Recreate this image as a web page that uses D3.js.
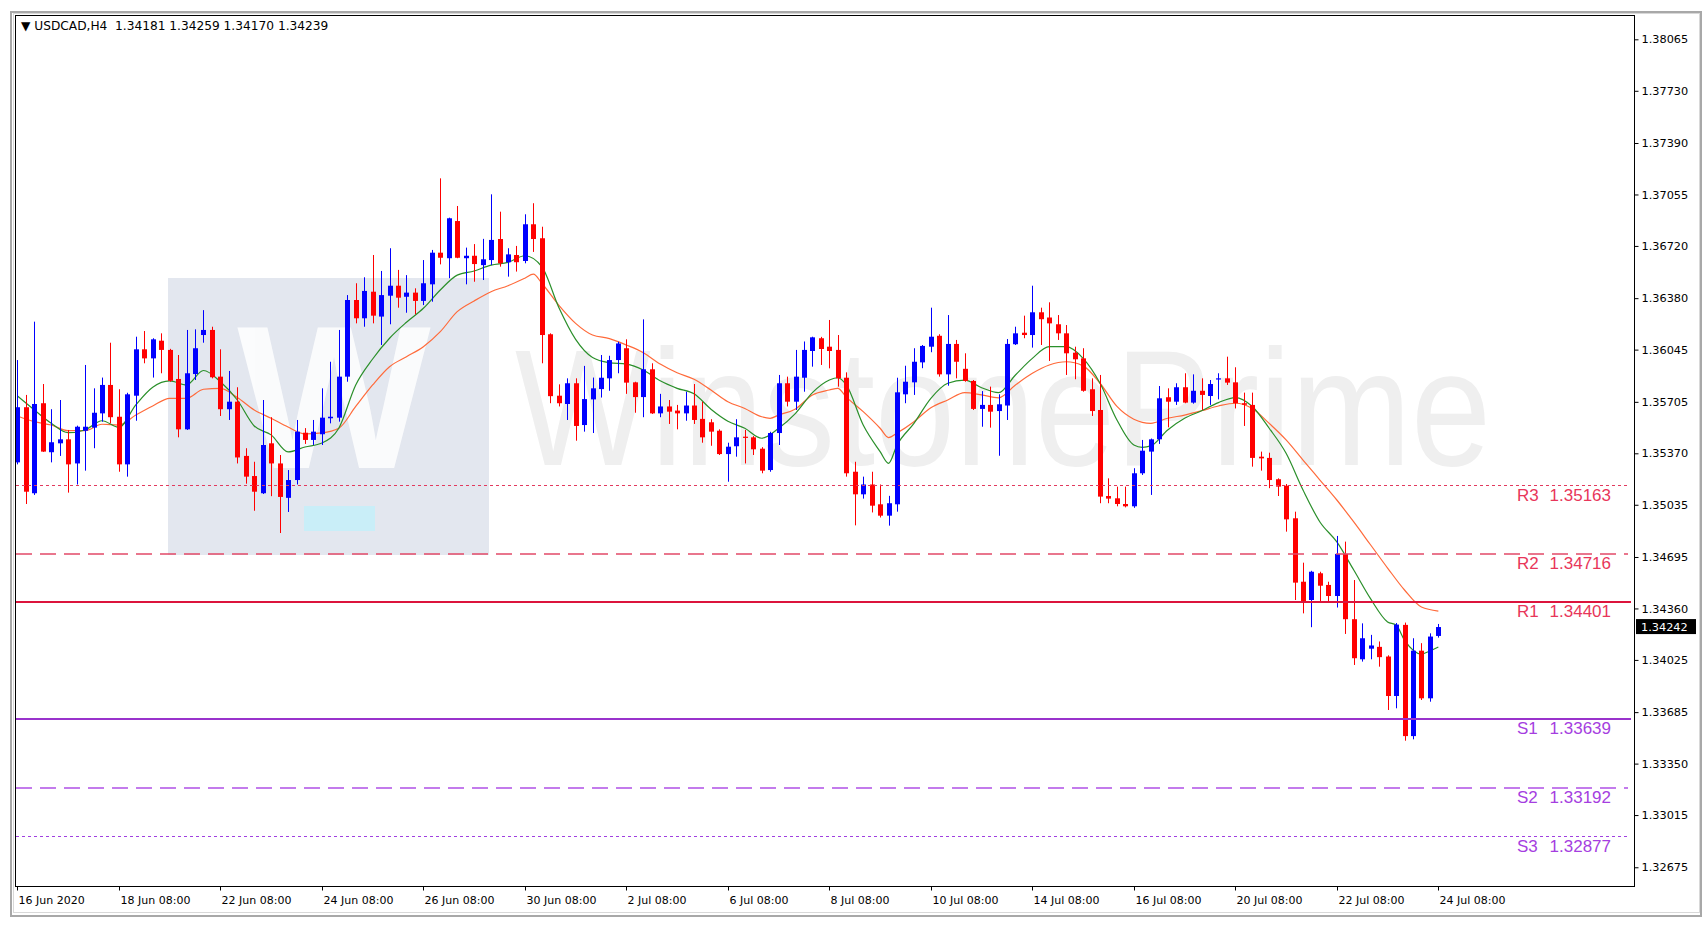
<!DOCTYPE html>
<html><head><meta charset="utf-8">
<script src="https://cdn.jsdelivr.net/npm/d3@7"></script>
<style>html,body{margin:0;padding:0;background:#fff;overflow:hidden}</style>
</head><body><svg id="c" width="1705" height="929"></svg>
<script>
// ---------- data ----------
const symbolTitle = "USDCAD,H4";
const headerOHLC = ["1.34181","1.34259","1.34170","1.34239"];
const opens = [1.35311,1.35670,1.35110,1.35696,1.35377,1.35435,1.35461,1.35304,1.35517,1.35537,1.35630,1.35815,1.35608,1.35298,1.35745,1.36047,1.35988,1.36103,1.36043,1.35854,1.35526,1.35886,1.36140,1.36173,1.35869,1.35657,1.35706,1.35353,1.35222,1.35110,1.35435,1.35304,1.35080,1.35196,1.35504,1.35457,1.35494,1.35598,1.35602,1.35869,1.36368,1.36249,1.36422,1.36260,1.36396,1.36461,1.36389,1.36416,1.36362,1.36470,1.36676,1.36640,1.36882,1.36640,1.36656,1.36595,1.36628,1.36765,1.36614,1.36661,1.36622,1.36861,1.36770,1.36145,1.35745,1.35691,1.35826,1.35554,1.35721,1.35788,1.35858,1.35977,1.36054,1.35832,1.35736,1.35917,1.35630,1.35675,1.35648,1.35630,1.35681,1.35594,1.35572,1.35517,1.35365,1.35416,1.35478,1.35474,1.35400,1.35261,1.35502,1.35826,1.35706,1.35862,1.36036,1.36119,1.36064,1.36043,1.35862,1.35250,1.35103,1.35167,1.35038,1.34964,1.35038,1.35754,1.35832,1.35962,1.36064,1.36135,1.35884,1.36082,1.35920,1.35841,1.35659,1.35685,1.35645,1.35681,1.36080,1.36155,1.36140,1.36288,1.36254,1.36210,1.36151,1.36025,1.35988,1.35787,1.35652,1.35092,1.35077,1.35040,1.35025,1.35240,1.35381,1.35461,1.35735,1.35706,1.35800,1.35700,1.35777,1.35743,1.35852,1.35858,1.35832,1.35696,1.35685,1.35348,1.35340,1.35201,1.35159,1.34947,1.34534,1.34415,1.34589,1.34513,1.34441,1.34715,1.34290,1.34029,1.34098,1.34110,1.34047,1.33790,1.34253,1.33529,1.34085,1.33775,1.34181];
const highs = [1.35977,1.35750,1.36227,1.35821,1.35657,1.35717,1.35522,1.35550,1.35945,1.35793,1.35863,1.36090,1.35787,1.35764,1.36129,1.36166,1.36119,1.36151,1.36050,1.36010,1.36173,1.36177,1.36302,1.36194,1.36047,1.35906,1.35800,1.35403,1.35315,1.35717,1.35605,1.35359,1.35261,1.35587,1.35534,1.35587,1.35793,1.35966,1.36173,1.36400,1.36477,1.36516,1.36661,1.36557,1.36705,1.36564,1.36530,1.36444,1.36628,1.36694,1.37160,1.36904,1.36980,1.36709,1.36732,1.36766,1.37056,1.36943,1.36705,1.36720,1.36926,1.36998,1.36845,1.36151,1.35819,1.35858,1.35858,1.35939,1.35863,1.36010,1.36005,1.36096,1.36112,1.35836,1.36242,1.35956,1.35757,1.35717,1.35685,1.35771,1.35821,1.35706,1.35592,1.35526,1.35439,1.35592,1.35522,1.35482,1.35410,1.35510,1.35880,1.35869,1.36043,1.36098,1.36129,1.36128,1.36238,1.36140,1.35897,1.35315,1.35218,1.35250,1.35167,1.35093,1.35862,1.35940,1.36054,1.36075,1.36318,1.36145,1.36270,1.36108,1.36021,1.35847,1.35775,1.35804,1.35754,1.36114,1.36194,1.36266,1.36461,1.36318,1.36353,1.36270,1.36205,1.36064,1.36054,1.35858,1.35880,1.35207,1.35153,1.35153,1.35273,1.35457,1.35466,1.35808,1.35793,1.35826,1.35891,1.35884,1.35858,1.35847,1.35891,1.35999,1.35930,1.35765,1.35765,1.35381,1.35374,1.35207,1.35170,1.34990,1.34658,1.34605,1.34599,1.34534,1.34832,1.34795,1.34545,1.34263,1.34188,1.34145,1.34055,1.34265,1.34268,1.34166,1.34134,1.34198,1.34259];
const lows = [1.35298,1.35040,1.35099,1.35379,1.35311,1.35353,1.35114,1.35167,1.35257,1.35403,1.35576,1.35565,1.35250,1.35218,1.35582,1.35956,1.35863,1.35891,1.35836,1.35474,1.35522,1.35847,1.36090,1.35858,1.35613,1.35587,1.35304,1.35172,1.34996,1.35105,1.35091,1.34851,1.34988,1.35167,1.35431,1.35424,1.35424,1.35565,1.35576,1.35836,1.36216,1.36194,1.36216,1.36075,1.36210,1.36318,1.36285,1.36275,1.36335,1.36357,1.36600,1.36510,1.36640,1.36470,1.36487,1.36498,1.36595,1.36585,1.36520,1.36553,1.36607,1.36681,1.35956,1.35696,1.35675,1.35587,1.35452,1.35511,1.35502,1.35733,1.35777,1.35891,1.35757,1.35634,1.35605,1.35626,1.35605,1.35561,1.35526,1.35582,1.35561,1.35439,1.35419,1.35359,1.35185,1.35348,1.35304,1.35359,1.35240,1.35250,1.35424,1.35675,1.35652,1.35771,1.35934,1.35945,1.35923,1.35804,1.35218,1.34901,1.35075,1.34985,1.34952,1.34899,1.34990,1.35696,1.35750,1.35924,1.36028,1.35869,1.35810,1.35858,1.35836,1.35652,1.35543,1.35537,1.35354,1.35587,1.36075,1.36119,1.36058,1.36075,1.35971,1.36108,1.35880,1.35852,1.35771,1.35613,1.35045,1.35045,1.35025,1.35018,1.35015,1.35229,1.35099,1.35431,1.35539,1.35685,1.35696,1.35693,1.35652,1.35685,1.35721,1.35815,1.35662,1.35548,1.35283,1.35257,1.35143,1.35092,1.34860,1.34415,1.34328,1.34238,1.34404,1.34404,1.34366,1.34194,1.33992,1.34014,1.34029,1.33981,1.33699,1.33710,1.33499,1.33508,1.33764,1.33753,1.34170];
const closes = [1.35670,1.35120,1.35691,1.35381,1.35442,1.35461,1.35298,1.35543,1.35543,1.35634,1.35815,1.35605,1.35298,1.35754,1.36047,1.35988,1.36112,1.36043,1.35842,1.35526,1.35891,1.36054,1.36173,1.35865,1.35657,1.35706,1.35343,1.35218,1.35120,1.35424,1.35304,1.35086,1.35196,1.35511,1.35457,1.35511,1.35602,1.35608,1.35869,1.36368,1.36249,1.36427,1.36266,1.36400,1.36461,1.36383,1.36416,1.36362,1.36477,1.36676,1.36643,1.36900,1.36643,1.36656,1.36602,1.36633,1.36759,1.36607,1.36665,1.36614,1.36861,1.36765,1.36140,1.35742,1.35696,1.35826,1.35548,1.35723,1.35793,1.35862,1.35977,1.36085,1.35830,1.35736,1.35917,1.35630,1.35675,1.35641,1.35630,1.35681,1.35587,1.35474,1.35511,1.35365,1.35413,1.35474,1.35474,1.35396,1.35257,1.35502,1.35826,1.35706,1.35869,1.36043,1.36125,1.36049,1.36036,1.35858,1.35240,1.35103,1.35167,1.35029,1.34964,1.35045,1.35767,1.35836,1.35966,1.36069,1.36129,1.35884,1.36082,1.35966,1.35841,1.35659,1.35685,1.35641,1.35689,1.36082,1.36151,1.36140,1.36288,1.36243,1.36216,1.36151,1.36021,1.35982,1.35777,1.35645,1.35088,1.35075,1.35040,1.35025,1.35240,1.35387,1.35461,1.35728,1.35706,1.35800,1.35700,1.35777,1.35750,1.35821,1.35858,1.35830,1.35696,1.35686,1.35340,1.35337,1.35196,1.35153,1.34940,1.34528,1.34404,1.34599,1.34508,1.34441,1.34715,1.34290,1.34036,1.34166,1.34119,1.34043,1.33790,1.34255,1.33529,1.34085,1.33775,1.34177,1.34239];

// moving averages: [bar index, value]
const fastMA = [[0,1.35743],[2,1.35652],[4,1.35565],[6,1.35504],[8,1.35522],[10,1.35582],[12,1.35539],[14,1.35685],[16,1.35800],[18,1.35841],[20,1.35815],[22,1.35909],[24,1.35836],[26,1.35717],[28,1.35548],[30,1.35490],[32,1.35379],[34,1.35411],[36,1.35437],[38,1.35533],[40,1.35815],[42,1.35984],[44,1.36119],[46,1.36223],[48,1.36314],[50,1.36433],[52,1.36530],[54,1.36557],[56,1.36595],[58,1.36613],[60,1.36656],[62,1.36585],[64,1.36321],[66,1.36112],[68,1.35994],[70,1.35960],[72,1.35951],[74,1.35912],[76,1.35842],[78,1.35793],[80,1.35757],[82,1.35657],[84,1.35579],[86,1.35533],[88,1.35468],[90,1.35533],[92,1.35630],[94,1.35765],[96,1.35847],[97,1.35862],[98,1.35815],[100,1.35554],[102,1.35381],[103,1.35305],[104,1.35424],[106,1.35565],[108,1.35728],[110,1.35826],[112,1.35847],[114,1.35797],[116,1.35765],[118,1.35880],[120,1.35988],[122,1.36064],[124,1.36064],[126,1.35988],[128,1.35826],[130,1.35587],[132,1.35424],[133,1.35409],[134,1.35418],[136,1.35522],[138,1.35598],[140,1.35647],[142,1.35700],[144,1.35733],[146,1.35675],[148,1.35533],[150,1.35370],[152,1.35131],[154,1.34923],[156,1.34793],[158,1.34610],[160,1.34422],[162,1.34272],[163,1.34252],[164,1.34154],[166,1.34063],[167,1.34083],[168,1.34109]];
const slowMA = [[0,1.35613],[2,1.35576],[4,1.35554],[6,1.35517],[8,1.35517],[10,1.35559],[12,1.35554],[14,1.35619],[16,1.35678],[18,1.35728],[20,1.35728],[22,1.35787],[24,1.35793],[26,1.35733],[28,1.35652],[30,1.35598],[32,1.35541],[34,1.35497],[36,1.35503],[38,1.35533],[40,1.35675],[42,1.35815],[44,1.35934],[46,1.35999],[48,1.36064],[50,1.36162],[52,1.36292],[54,1.36362],[56,1.36422],[58,1.36461],[60,1.36510],[61,1.36536],[62,1.36477],[64,1.36335],[66,1.36216],[68,1.36140],[70,1.36117],[72,1.36075],[74,1.36025],[76,1.35951],[78,1.35894],[80,1.35852],[82,1.35782],[84,1.35706],[86,1.35662],[88,1.35608],[89,1.35598],[90,1.35619],[92,1.35659],[94,1.35750],[96,1.35782],[97,1.35793],[98,1.35736],[100,1.35641],[102,1.35533],[103,1.35472],[104,1.35502],[106,1.35576],[108,1.35666],[110,1.35717],[112,1.35765],[114,1.35750],[116,1.35731],[118,1.35815],[120,1.35891],[122,1.35945],[124,1.35966],[126,1.35939],[128,1.35826],[130,1.35675],[132,1.35592],[134,1.35565],[136,1.35598],[138,1.35619],[140,1.35647],[142,1.35678],[144,1.35696],[146,1.35662],[148,1.35565],[150,1.35457],[152,1.35326],[154,1.35196],[156,1.35066],[158,1.34923],[160,1.34773],[162,1.34623],[164,1.34480],[166,1.34369],[168,1.34343]];

const priceTicks = [1.38065,1.37730,1.37390,1.37055,1.36720,1.36380,1.36045,1.35705,1.35370,1.35035,1.34695,1.34360,1.34025,1.33685,1.33350,1.33015,1.32675];
const timeLabels = ["16 Jun 2020","18 Jun 08:00","22 Jun 08:00","24 Jun 08:00","26 Jun 08:00","30 Jun 08:00","2 Jul 08:00","6 Jul 08:00","8 Jul 08:00","10 Jul 08:00","14 Jul 08:00","16 Jul 08:00","20 Jul 08:00","22 Jul 08:00","24 Jul 08:00"];
const timeLabelBars = [0,12,24,36,48,60,72,84,96,108,120,132,144,156,168];
const pivotNames = ["R3","R2","R1","S1","S2","S3"];
const pivotValues = [1.35163,1.34716,1.34401,1.33639,1.33192,1.32877];
const currentPrice = 1.34242;
const watermarkText = "WinstonePrime";

// ---------- layout ----------
const svg = d3.select("#c");
const plot = {l:15.5, r:1634.5, t:15.5, b:886.5};
const x = d3.scaleLinear().domain([0,168]).range([17.4, 17.4 + 168*8.458]);
const y = d3.scaleLinear().domain([1.38321, 1.325922]).range([0, 880]);
const fmt = d3.format(".5f");

// window frame
svg.append("rect").attr("x",11).attr("y",12).attr("width",1690).attr("height",904)
  .attr("fill","#fff").attr("stroke","#a8a8a8").attr("stroke-width",2);
svg.append("rect").attr("x",13.5).attr("y",13.5).attr("width",1686).attr("height",899)
  .attr("fill","none").attr("stroke","#d8d8d8").attr("stroke-width",1);

svg.append("defs").append("clipPath").attr("id","clip").append("rect")
  .attr("x",plot.l).attr("y",plot.t).attr("width",plot.r-plot.l).attr("height",plot.b-plot.t);

const pg = svg.append("g").attr("clip-path","url(#clip)");

// watermark
pg.append("rect").attr("x",168).attr("y",278).attr("width",321).attr("height",277).attr("fill","#e3e7ef");
pg.append("text").attr("x",334).attr("y",468).attr("text-anchor","middle")
  .attr("font-family","Liberation Sans, Arial, sans-serif").attr("font-weight","bold")
  .attr("font-size",205).attr("fill","#ffffff").attr("opacity",0.85).text("W");
pg.append("rect").attr("x",304).attr("y",506).attr("width",71).attr("height",25).attr("fill","#c9eef8");
pg.append("text")
  .attr("transform","translate(515,465) scale(1,1.15)")
  .attr("x",0).attr("y",0)
  .attr("font-family","Liberation Sans, Arial, sans-serif")
  .attr("font-size",144).attr("fill","#efefef")
  .text(watermarkText);

// pivot lines
const pivotStyle = [
  {c:"#e23a5e", w:1, d:"3,3"}, {c:"#e24a68", w:1.5, d:"16,8"}, {c:"#dc143c", w:2, d:null},
  {c:"#9932cc", w:2, d:null}, {c:"#b050e6", w:1.5, d:"16,8"}, {c:"#a040e0", w:1, d:"3,3"}];
const textCol = ["#e8365a","#e8365a","#e8365a","#a53ee0","#a53ee0","#a53ee0"];
pivotValues.forEach((v,k)=>{
  const yy = Math.round(y(v)) + (pivotStyle[k].w===1?0.5:0);
  const ln = svg.append("line").attr("x1",16).attr("x2", k===2||k===3 ? 1631 : 1628)
    .attr("y1",yy).attr("y2",yy).attr("stroke",pivotStyle[k].c).attr("stroke-width",pivotStyle[k].w);
  if (pivotStyle[k].d) ln.attr("stroke-dasharray",pivotStyle[k].d);
  svg.append("text").attr("x",1517).attr("y",yy+15)
    .attr("font-family","Liberation Sans, Arial, sans-serif").attr("font-size",17)
    .attr("fill",textCol[k]).text(pivotNames[k]);
  svg.append("text").attr("x",1611).attr("y",yy+15).attr("text-anchor","end")
    .attr("font-family","Liberation Sans, Arial, sans-serif").attr("font-size",17)
    .attr("fill",textCol[k]).text(fmt(v));
});

// moving averages
const maLine = d3.line().x(d=>x(d[0])).y(d=>y(d[1])).curve(d3.curveMonotoneX);
pg.append("path").datum(slowMA).attr("d",maLine).attr("fill","none").attr("stroke","#ff6a3a").attr("stroke-width",1.2);
pg.append("path").datum(fastMA).attr("d",maLine).attr("fill","none").attr("stroke","#2a8f2a").attr("stroke-width",1.2);

// candles
const bars = opens.map((o,i)=>({i, o, h:highs[i], l:lows[i], c:closes[i]}));
const colOf = d => d.c >= d.o ? "#0000ff" : "#ff0000";
const cg = pg.append("g");
cg.selectAll("line").data(bars).join("line")
  .attr("x1",d=>Math.round(x(d.i))+0.5).attr("x2",d=>Math.round(x(d.i))+0.5)
  .attr("y1",d=>y(d.h)).attr("y2",d=>y(d.l))
  .attr("stroke",colOf).attr("stroke-width",1);
cg.selectAll("rect").data(bars).join("rect")
  .attr("x",d=>Math.round(x(d.i))-2).attr("width",5)
  .attr("y",d=>y(Math.max(d.o,d.c)))
  .attr("height",d=>Math.max(1.2, Math.abs(y(d.o)-y(d.c))))
  .attr("fill",colOf);

// plot border
svg.append("rect").attr("x",plot.l).attr("y",plot.t).attr("width",plot.r-plot.l).attr("height",plot.b-plot.t)
  .attr("fill","none").attr("stroke","#000").attr("stroke-width",1);

// y axis
const yAxis = d3.axisRight(y).tickValues(priceTicks).tickFormat(fmt).tickSize(4).tickPadding(3);
const ya = svg.append("g").attr("transform",`translate(${plot.r},0)`).call(yAxis);
ya.select(".domain").remove();
ya.selectAll("text").attr("font-family","DejaVu Sans, Verdana, sans-serif").attr("font-size",11.3).attr("fill","#000");
ya.selectAll("line").attr("stroke","#000");

// current price box
svg.append("rect").attr("x",1636).attr("y",y(currentPrice)-7.5).attr("width",60).attr("height",15).attr("fill","#000");
svg.append("text").attr("x",1641).attr("y",y(currentPrice)+4.3)
  .attr("font-family","DejaVu Sans, Verdana, sans-serif").attr("font-size",11.3).attr("fill","#fff").text(fmt(currentPrice));

// x axis
const xa = svg.append("g");
timeLabelBars.forEach((b,k)=>{
  const xx = Math.round(x(b))+0.5;
  xa.append("line").attr("x1",xx).attr("x2",xx).attr("y1",plot.b).attr("y2",plot.b+4).attr("stroke","#000");
  xa.append("text").attr("x",xx+1).attr("y",904)
    .attr("font-family","DejaVu Sans, Verdana, sans-serif").attr("font-size",11).attr("fill","#000").text(timeLabels[k]);
});

// header
svg.append("text").attr("x",21).attr("y",30)
  .attr("font-family","DejaVu Sans, Verdana, sans-serif").attr("font-size",12.2).attr("fill","#000")
  .attr("xml:space","preserve")
  .text("\u25BC " + symbolTitle + "  " + headerOHLC.join(" "));
</script></body></html>
